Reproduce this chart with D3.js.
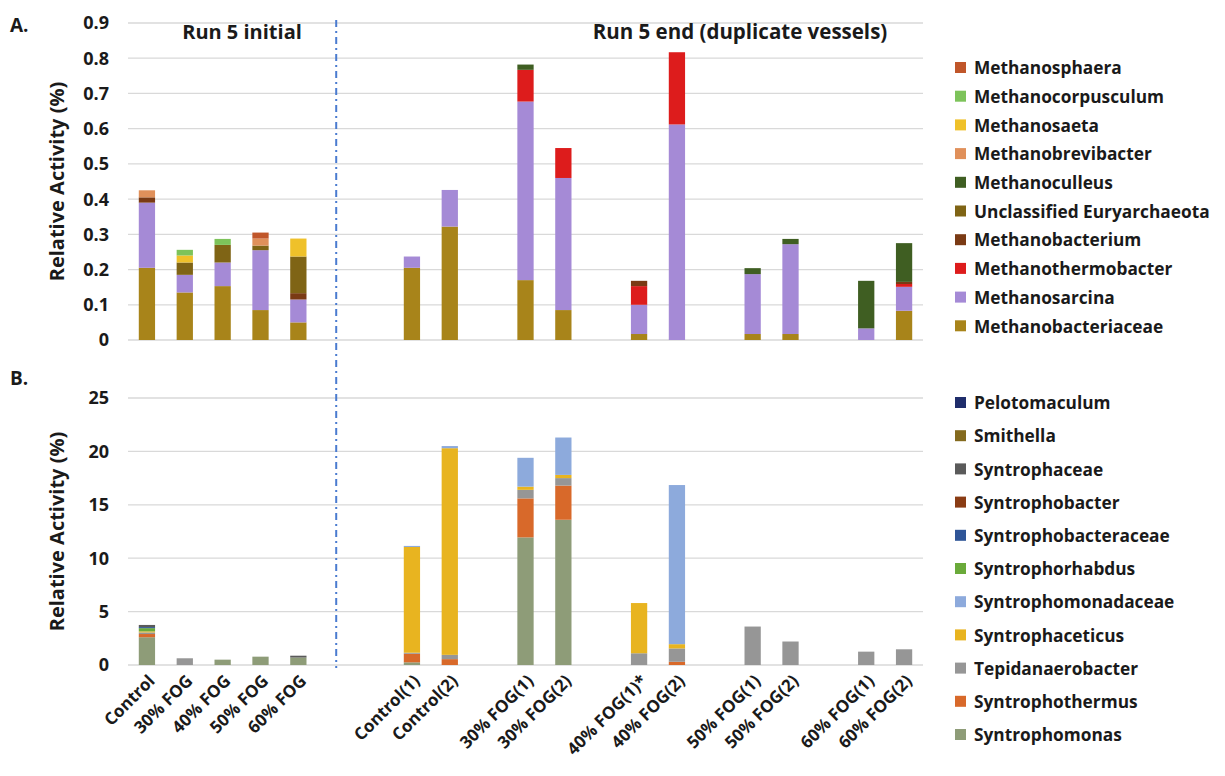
<!DOCTYPE html>
<html><head><meta charset="utf-8">
<script src="https://cdn.jsdelivr.net/npm/d3@7"></script>
<style>
body{margin:0;background:#fff;}
text{font-family:"Open Sans",Lato,sans-serif;font-weight:bold;fill:#1a1a1a;}
</style></head>
<body><svg id="chart" width="1225" height="776"></svg>
<script>
// ---- categories (blank slots are empty categories) ----
const categories = ["Control","30% FOG","40% FOG","50% FOG","60% FOG","","",
  "Control(1)","Control(2)","","30% FOG(1)","30% FOG(2)","","40% FOG(1)*","40% FOG(2)","",
  "50% FOG(1)","50% FOG(2)","","60% FOG(1)","60% FOG(2)"];
const samples = categories.map((c,i)=>({c,i})).filter(d=>d.c!=="");

// ---- Panel A: methanogens (values per sample, in order of samples) ----
const speciesA = ["Methanobacteriaceae","Methanosarcina","Methanothermobacter","Methanobacterium",
  "Unclassified Euryarchaeota","Methanoculleus","Methanobrevibacter","Methanosaeta","Methanocorpusculum","Methanosphaera"];
const colorsA = ["#A8841A","#A58AD6","#DD1C1C","#7A3A14","#7F6415","#3F5E22","#E0905A","#EFC12A","#7DC35A","#C0562A"];
const methanobacteriaceae = [0.205,0.135,0.153,0.085,0.05, 0.205,0.322,0.17,0.085,0.017,0,0.017,0.017,0,0.083];
const methanosarcina      = [0.185,0.05,0.067,0.17,0.065, 0.032,0.104,0.507,0.375,0.083,0.612,0.17,0.255,0.033,0.068];
const methanothermobacter = [0,0,0,0,0, 0,0,0.09,0.085,0.053,0.205,0,0,0,0.008];
const methanobacterium    = [0.015,0,0,0,0.018, 0,0,0,0,0.015,0,0,0,0,0.006];
const unclassifiedEury    = [0,0.035,0.05,0.013,0.104, 0,0,0,0,0,0,0,0,0,0];
const methanoculleus      = [0,0,0,0,0, 0,0,0.015,0,0,0,0.017,0.015,0.135,0.11];
const methanobrevibacter  = [0.02,0,0,0.02,0, 0,0,0,0,0,0,0,0,0,0];
const methanosaeta        = [0,0.02,0,0,0.051, 0,0,0,0,0,0,0,0,0,0];
const methanocorpusculum  = [0,0.016,0.017,0,0, 0,0,0,0,0,0,0,0,0,0];
const methanosphaera      = [0,0,0,0.017,0, 0,0,0,0,0,0,0,0,0,0];
const valuesA = [methanobacteriaceae,methanosarcina,methanothermobacter,methanobacterium,
  unclassifiedEury,methanoculleus,methanobrevibacter,methanosaeta,methanocorpusculum,methanosphaera];
const ticksA = [0,0.1,0.2,0.3,0.4,0.5,0.6,0.7,0.8,0.9];
const tickLabelsA = ["0","0.1","0.2","0.3","0.4","0.5","0.6","0.7","0.8","0.9"];

// ---- Panel B: syntrophs ----
const speciesB = ["Syntrophomonas","Syntrophothermus","Tepidanaerobacter","Syntrophaceticus","Syntrophomonadaceae",
  "Syntrophorhabdus","Syntrophobacteraceae","Syntrophobacter","Syntrophaceae","Smithella","Pelotomaculum"];
const colorsB = ["#8E9C78","#D8692A","#969696","#E8B420","#8DAADC","#6AAA3A","#2F5597","#8A3C14","#5A5A5A","#846A1E","#1F2D6B"];
const syntrophomonas      = [2.6,0,0.5,0.78,0.7, 0.25,0,11.95,13.6,0,0,0,0,0,0];
const syntrophothermus    = [0.3,0,0,0,0, 0.8,0.55,3.65,3.2,0,0.3,0,0,0,0];
const tepidanaerobacter   = [0.15,0.63,0,0,0, 0.1,0.4,0.8,0.7,1.1,1.25,3.6,2.2,1.25,1.47];
const syntrophaceticus    = [0.1,0,0,0,0, 9.9,19.35,0.3,0.3,4.7,0.4,0,0,0,0];
const syntrophomonadaceae = [0,0,0,0,0, 0.1,0.2,2.7,3.5,0,14.9,0,0,0,0];
const syntrophorhabdus    = [0.3,0,0,0,0, 0,0,0,0,0,0,0,0,0,0];
const syntrophobacteraceae= [0.1,0,0,0,0, 0,0,0,0,0,0,0,0,0,0];
const syntrophobacter     = [0,0,0,0,0, 0,0,0,0,0,0,0,0,0,0];
const syntrophaceae       = [0.2,0,0,0,0.17, 0,0,0,0,0,0,0,0,0,0];
const smithella           = [0,0,0,0,0, 0,0,0,0,0,0,0,0,0,0];
const pelotomaculum       = [0,0,0,0,0, 0,0,0,0,0,0,0,0,0,0];
const valuesB = [syntrophomonas,syntrophothermus,tepidanaerobacter,syntrophaceticus,syntrophomonadaceae,
  syntrophorhabdus,syntrophobacteraceae,syntrophobacter,syntrophaceae,smithella,pelotomaculum];
const ticksB = [0,5,10,15,20,25];
const tickLabelsB = ["0","5","10","15","20","25"];

const svg = d3.select("#chart");
const x = d3.scaleBand().domain(d3.range(categories.length)).range([128,923]).paddingInner(0.57).paddingOuter(0.285);

function panel(species, colors, values, ticks, tickLabels, y, legendTop, legendStep, title) {
  const g = svg.append("g");
  g.selectAll("line.grid").data(ticks).join("line")
    .attr("x1",128).attr("x2",923).attr("y1",d=>y(d)).attr("y2",d=>y(d))
    .attr("stroke","#d9d9d9").attr("stroke-width",1.3);
  g.selectAll("text.tick").data(ticks).join("text")
    .attr("x",109).attr("y",d=>y(d)).attr("dy","0.36em").attr("text-anchor","end")
    .attr("font-size",18).text((d,i)=>tickLabels[i]);
  const rows = samples.map((s,j)=>{const r={i:s.i}; species.forEach((sp,k)=>r[sp]=values[k][j]); return r;});
  const stack = d3.stack().keys(species)(rows);
  stack.forEach((layer,k)=>{
    g.append("g").attr("fill",colors[k]).selectAll("rect").data(layer.filter(d=>d[1]-d[0]>0)).join("rect")
      .attr("x",d=>x(d.data.i)).attr("width",x.bandwidth())
      .attr("y",d=>y(d[1])).attr("height",d=>y(d[0])-y(d[1]));
  });
  const yc = (y(ticks[0])+y(ticks[ticks.length-1]))/2;
  g.append("text").attr("transform",`translate(64,${yc}) rotate(-90)`).attr("text-anchor","middle")
    .attr("font-size",20).text("Relative Activity (%)");
  g.append("text").attr("x",10).attr("y",title.y).attr("font-size",19).text(title.t);
  const leg = species.map((s,k)=>({s,c:colors[k]})).reverse();
  const lg = g.selectAll("g.leg").data(leg).join("g").attr("transform",(d,i)=>`translate(955,${legendTop+i*legendStep})`);
  lg.append("rect").attr("x",0).attr("y",-6).attr("width",11).attr("height",11).attr("fill",d=>d.c);
  lg.append("text").attr("x",19).attr("dy","0.36em").attr("font-size",17.3).text(d=>d.s);
}

const yA = d3.scaleLinear().domain([0,0.9]).range([340,23]);
const yB = d3.scaleLinear().domain([0,25]).range([665,398]);
panel(speciesA,colorsA,valuesA,ticksA,tickLabelsA,yA,68,28.7,{t:"A.",y:32});
panel(speciesB,colorsB,valuesB,ticksB,tickLabelsB,yB,403,33.2,{t:"B.",y:385});

svg.append("text").attr("x",242).attr("y",39).attr("text-anchor","middle").attr("font-size",20).text("Run 5 initial");
svg.append("text").attr("x",740).attr("y",39).attr("text-anchor","middle").attr("font-size",20.5).text("Run 5 end (duplicate vessels)");

const xd = x(5)+x.bandwidth()/2;
svg.append("line").attr("x1",xd).attr("x2",xd).attr("y1",20).attr("y2",668)
  .attr("stroke","#4a7bd0").attr("stroke-width",2).attr("stroke-dasharray","7,4,2,4");

svg.selectAll("text.xl").data(samples).join("text")
  .attr("transform",d=>`translate(${x(d.i)+x.bandwidth()/2+9},${682}) rotate(-45)`)
  .attr("text-anchor","end").attr("font-size",17).text(d=>d.c);
</script></body></html>
